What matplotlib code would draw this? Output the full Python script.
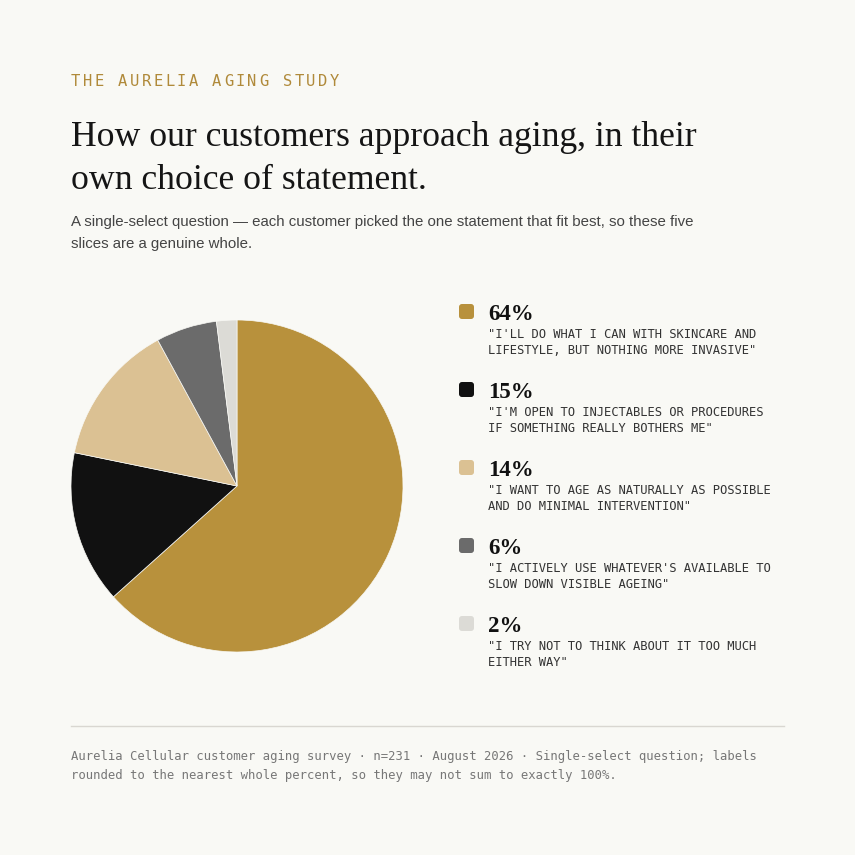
import matplotlib
matplotlib.use("Agg")
import matplotlib.pyplot as plt
from matplotlib.patches import FancyBboxPatch

# ---- data ----
shares = [64, 15, 14, 6, 2]
pct_labels = ["64%", "15%", "14%", "6%", "2%"]
statements = [
    "\"I'LL DO WHAT I CAN WITH SKINCARE AND\nLIFESTYLE, BUT NOTHING MORE INVASIVE\"",
    "\"I'M OPEN TO INJECTABLES OR PROCEDURES\nIF SOMETHING REALLY BOTHERS ME\"",
    "\"I WANT TO AGE AS NATURALLY AS POSSIBLE\nAND DO MINIMAL INTERVENTION\"",
    "\"I ACTIVELY USE WHATEVER'S AVAILABLE TO\nSLOW DOWN VISIBLE AGEING\"",
    "\"I TRY NOT TO THINK ABOUT IT TOO MUCH\nEITHER WAY\"",
]
colors = ["#b8913c", "#111111", "#dbc193", "#6b6b6b", "#dcdbd6"]

kicker = "THE AURELIA AGING STUDY"
title = "How our customers approach aging, in their\nown choice of statement."
subtitle = ("A single-select question \u2014 each customer picked the one statement that fit best, so these five\n"
            "slices are a genuine whole.")
footer = ("Aurelia Cellular customer aging survey \u00b7 n=231 \u00b7 August 2026 \u00b7 Single-select question; labels\n"
          "rounded to the nearest whole percent, so they may not sum to exactly 100%.")

BG = "#f9f9f5"
W = H = 855
fig = plt.figure(figsize=(W / 100, H / 100), dpi=100, facecolor=BG)

# overlay in pixel coordinates
ov = fig.add_axes([0, 0, 1, 1])
ov.set_xlim(0, W)
ov.set_ylim(H, 0)
ov.axis("off")
ov.set_facecolor("none")

mono = "DejaVu Sans Mono"
serif = "Liberation Serif"
sans = "Liberation Sans"

# letter-spaced kicker (monospace, fixed advance per character)
adv = 11.75
for i, ch in enumerate(kicker):
    if ch != " ":
        ov.text(71 + i * adv, 86, ch, fontsize=11.2, family=mono, color="#b08a3a", va="baseline")

t1, t2 = title.split("\n")
ov.text(71, 146, t1, fontsize=25.7, family=serif, color="#151515", va="baseline")
ov.text(71, 189, t2, fontsize=25.7, family=serif, color="#151515", va="baseline")
sub_lines = subtitle.split("\n")
ov.text(71, 226, sub_lines[0], fontsize=10.8, family=sans, color="#444444", va="baseline")
ov.text(71, 248, sub_lines[1], fontsize=10.8, family=sans, color="#444444", va="baseline")

# pie
cx, cy, r = 237, 486, 166
pax = fig.add_axes([(cx - r) / W, 1 - (cy + r) / H, 2 * r / W, 2 * r / H])
pax.pie(shares, colors=colors, startangle=90, counterclock=False, radius=1,
        wedgeprops=dict(edgecolor=BG, linewidth=0.5))
pax.set_xlim(-1, 1)
pax.set_ylim(-1, 1)
pax.set_aspect("equal")
pax.axis("off")

# legend
y0 = 320
step = 78
for i, (p, s, c) in enumerate(zip(pct_labels, statements, colors)):
    yb = y0 + i * step
    box = FancyBboxPatch((459, yb - 16), 15, 15, boxstyle="round,pad=0,rounding_size=3",
                         facecolor=c, edgecolor="none")
    ov.add_patch(box)
    ov.text(488, yb, p, fontsize=16.5, family=serif, weight="bold", color="#111111", va="baseline")
    l1, l2 = s.split("\n")
    ov.text(488, yb + 18, l1, fontsize=8.7, family=mono, color="#333333", va="baseline")
    ov.text(488, yb + 34, l2, fontsize=8.7, family=mono, color="#333333", va="baseline")

# footer
ov.plot([71, 784], [726, 726], color="#d9d7d1", linewidth=1)
f1, f2 = footer.split("\n")
ov.text(71, 760, f1, fontsize=8.85, family=mono, color="#777777", va="baseline")
ov.text(71, 779, f2, fontsize=8.85, family=mono, color="#777777", va="baseline")

fig.savefig("out.png", dpi=100, facecolor=BG)
